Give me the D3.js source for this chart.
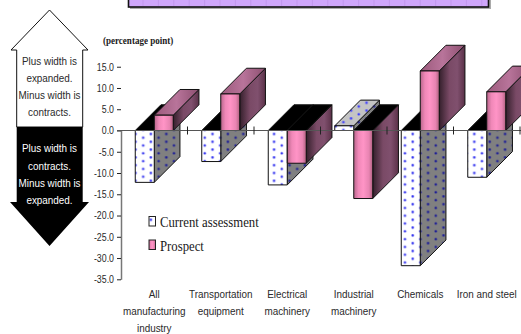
<!DOCTYPE html>
<html>
<head>
<meta charset="utf-8">
<script src="https://cdnjs.cloudflare.com/ajax/libs/d3/7.8.5/d3.min.js"></script>
<style>
  html, body { margin: 0; padding: 0; background: #fff; }
  svg { display: block; }
  text { font-family: "Liberation Sans", Arial, sans-serif; fill: #2a2a2a; }
  .serif { font-family: "Liberation Serif", "Times New Roman", serif; fill: #1a1a1a; }
</style>
</head>
<body>
<svg id="chart" width="521" height="334"></svg>
<script>
const categories = [
  ["All", "manufacturing", "industry"],
  ["Transportation", "equipment"],
  ["Electrical", "machinery"],
  ["Industrial", "machinery"],
  ["Chemicals"],
  ["Iron and steel"]
];
const currentAssessment = [-12.2, -7.3, -12.8, 1.1, -31.8, -11.0];
const prospect = [3.6, 8.6, -7.7, -16.0, 14.0, 9.1];
const yTicks = [15, 10, 5, 0, -5, -10, -15, -20, -25, -30, -35];
const seriesNames = ["Current assessment", "Prospect"];
const upArrowLines = ["Plus width is", "expanded.", "Minus width is", "contracts."];
const downArrowLines = ["Plus width is", "contracts.", "Minus width is", "expanded."];

const svg = d3.select("#chart");
const defs = svg.append("defs");

// Tall, narrow lettering: scale each label horizontally about its anchor point
function squeeze(sel, factor) {
  sel.each(function () {
    const t = d3.select(this);
    const px = +t.attr("x") || 0, py = +t.attr("y") || 0;
    t.attr("x", 0).attr("y", 0)
      .attr("transform", `translate(${px},${py}) scale(${factor},1)`);
  });
}

// Dotted fills for the current-assessment faces
function dotPattern(id, bg, dot) {
  const p = defs.append("pattern").attr("id", id)
    .attr("patternUnits", "userSpaceOnUse").attr("width", 15.4).attr("height", 7.8);
  p.append("rect").attr("width", 15.4).attr("height", 7.8).attr("fill", bg);
  [[4.6, 5.1], [12.3, 1.4]].forEach(([cx, cy]) => {
    p.append("circle").attr("cx", cx).attr("cy", cy).attr("r", 1.7).attr("fill", dot).attr("opacity", 0.3);
    p.append("circle").attr("cx", cx).attr("cy", cy).attr("r", 1.05).attr("fill", dot);
  });
}
dotPattern("dotFront", "#ffffff", "#3434f0");
dotPattern("dotSide", "#808080", "#1c1c96");
dotPattern("dotTop", "#c4c4c4", "#3a3aff");

// Cylinder-like shading for the prospect faces
function gradient(id, stops) {
  const g = defs.append("linearGradient").attr("id", id);
  stops.forEach(([o, c]) => g.append("stop").attr("offset", o).attr("stop-color", c));
}
gradient("pinkFront", [[0, "#b9668c"], [0.25, "#f088b8"], [0.5, "#ff94c6"], [0.8, "#e884b2"], [1, "#b0607f"]]);
gradient("pinkSide", [[0, "#35202c"], [0.4, "#7a4a66"], [0.7, "#80506e"], [1, "#5a3148"]]);
gradient("pinkTop", [[0, "#9c5a7c"], [0.5, "#b8749a"], [1, "#8c4f70"]]);

// Scales
const y = d3.scaleLinear().domain([0, -35]).range([130.5, 279.3]);
const x = d3.scaleBand().domain(d3.range(categories.length)).range([121, 520]);
const xSeries = d3.scaleBand().domain([0, 1]).range([0, x.bandwidth()])
  .paddingInner(0).paddingOuter(0.75);
const depth = 25.7;

// Banner strip at the top edge
const bannerLines = d3.range(143, 489, 15.4);
svg.append("rect").attr("x", 130).attr("y", -10).attr("width", 361).attr("height", 19).attr("fill", "#aaa");
svg.append("rect").attr("x", 128.5).attr("y", -10).attr("width", 360).attr("height", 17)
  .attr("fill", "#cfa6fb").attr("stroke", "#111").attr("stroke-width", 1.6);
svg.selectAll(".banner-line").data(bannerLines).join("line")
  .attr("x1", d => d).attr("x2", d => d).attr("y1", 0).attr("y2", 6)
  .attr("stroke", "#bb92e8").attr("stroke-width", 0.7);

// Left-hand arrows
const arrowPath = d3.line();
svg.append("path")
  .attr("d", arrowPath([[49.5, 10], [88, 50], [82.7, 50], [82.7, 127], [16.7, 127], [16.7, 50], [11, 50]]) + "Z")
  .attr("fill", "#fff").attr("stroke", "#111").attr("stroke-width", 1);
svg.append("path")
  .attr("d", arrowPath([[16.7, 127], [82.7, 127], [82.7, 202], [89, 202], [49.5, 246], [10, 202], [16.7, 202]]) + "Z")
  .attr("fill", "#000");
svg.selectAll(".up-text").data(upArrowLines).join("text")
  .attr("x", 49.5).attr("y", (d, i) => 64.7 + i * 17)
  .attr("text-anchor", "middle").attr("font-size", 11).text(d => d)
  .call(squeeze, 0.9);
svg.selectAll(".down-text").data(downArrowLines).join("text")
  .attr("x", 49.5).attr("y", (d, i) => 152.2 + i * 17.3)
  .attr("text-anchor", "middle").attr("font-size", 11).style("fill", "#fff").text(d => d)
  .call(squeeze, 0.9);

// Unit caption
svg.append("text").attr("class", "serif").attr("x", 103).attr("y", 44)
  .attr("font-size", 10.5).attr("font-weight", "bold").text("(percentage point)")
  .call(squeeze, 0.86);

// One 3-D column: back-facing faces first, then the front
function column(g, cat, ser, v) {
  const x0 = x(cat) + xSeries(ser), x1 = x0 + xSeries.bandwidth();
  const yv = y(v), y0 = y(0);
  const top = Math.min(yv, y0), bot = Math.max(yv, y0);
  const isCurrent = ser === 0;
  const negative = v < 0;
  const draw = (pts, fill) => g.append("path").attr("d", arrowPath(pts) + "Z")
    .attr("fill", fill).attr("stroke", "#111").attr("stroke-width", 1);
  draw([[x1, top], [x1 + depth, top - depth], [x1 + depth, bot - depth], [x1, bot]],
    isCurrent ? "url(#dotSide)" : "url(#pinkSide)");
  draw([[x0, top], [x1, top], [x1 + depth, top - depth], [x0 + depth, top - depth]],
    negative ? "#000" : (isCurrent ? "url(#dotTop)" : "url(#pinkTop)"));
  draw([[x0, top], [x1, top], [x1, bot], [x0, bot]],
    isCurrent ? "url(#dotFront)" : "url(#pinkFront)");
}

const plot = svg.append("g");
categories.forEach((c, i) => {
  column(plot, i, 0, currentAssessment[i]);
  column(plot, i, 1, prospect[i]);
});

// Value axis
const yAxis = svg.append("g").attr("transform", "translate(121,0)")
  .call(d3.axisLeft(y).tickValues(yTicks).tickSize(4).tickSizeOuter(0)
    .tickFormat(d => d3.format(".1f")(d).replace("−", "-")));
yAxis.select(".domain").attr("stroke", "#777").attr("stroke-width", 1.5);
yAxis.selectAll(".tick line").attr("stroke", "#222");
yAxis.selectAll(".tick text").attr("x", -7).attr("font-size", 10.5)
  .attr("font-family", '"Liberation Sans", Arial, sans-serif').style("fill", "#2a2a2a")
  .call(squeeze, 0.84);

// Zero line with category separators
svg.append("line").attr("x1", 117).attr("x2", 521).attr("y1", y(0)).attr("y2", y(0))
  .attr("stroke", "#555").attr("stroke-width", 1);
svg.selectAll(".sep").data(categories.map((c, i) => i)).join("line")
  .attr("x1", i => x(i) + x.bandwidth()).attr("x2", i => x(i) + x.bandwidth())
  .attr("y1", y(0) - 4).attr("y2", y(0) + 4)
  .attr("stroke", "#222").attr("stroke-width", 1);

// Category labels
categories.forEach((lines, i) => {
  svg.selectAll(".cat" + i).data(lines).join("text")
    .attr("x", x(i) + x.bandwidth() / 2).attr("y", (d, j) => 298 + j * 17)
    .attr("text-anchor", "middle").attr("font-size", 11).text(d => d)
    .call(squeeze, 0.9);
});

// Legend
const legendTop = [216.5, 240];
seriesNames.forEach((name, i) => {
  svg.append("rect").attr("x", 149).attr("y", legendTop[i]).attr("width", 6.5).attr("height", 9.5)
    .attr("fill", i === 0 ? "url(#dotFront)" : "url(#pinkFront)").attr("stroke", "#222").attr("stroke-width", 1);
  svg.append("text").attr("class", "serif").attr("x", 160).attr("y", legendTop[i] + 10.5)
    .attr("font-size", 15).text(name)
    .call(squeeze, 0.85);
});
</script>
</body>
</html>
